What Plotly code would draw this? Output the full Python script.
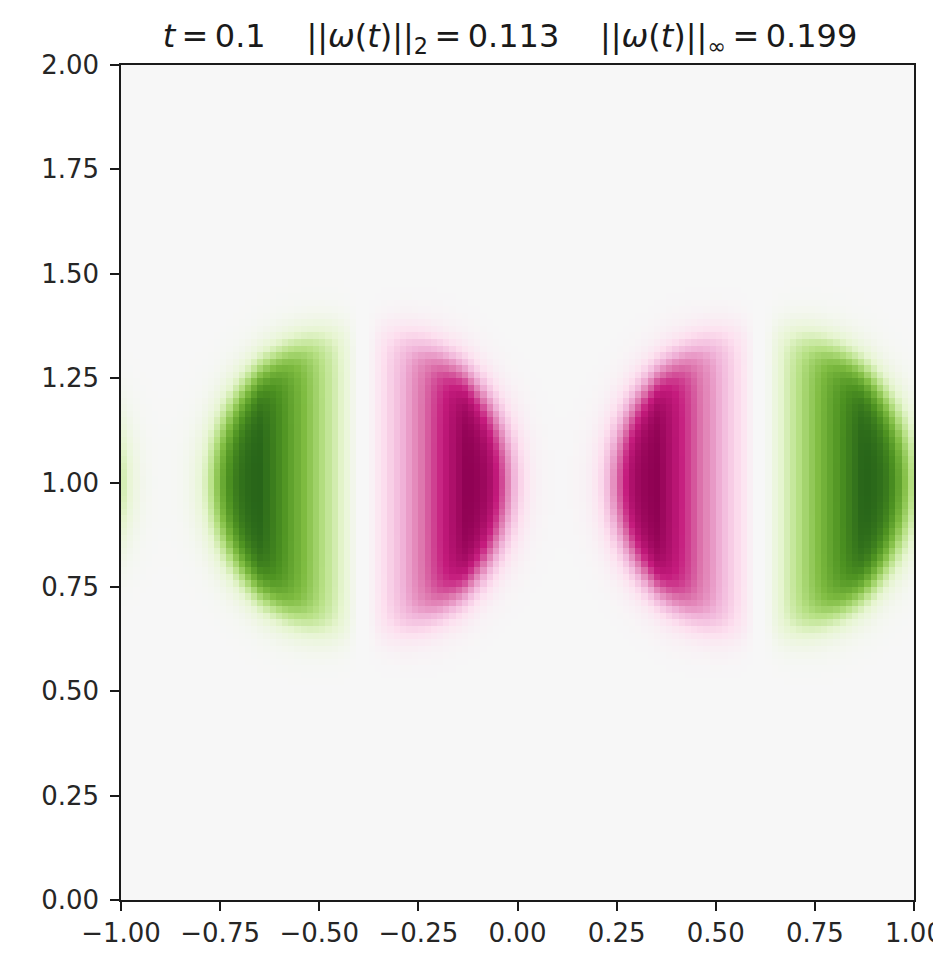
import numpy as np
import plotly.graph_objects as go

# Periodic domain in x, rectangular grid of cells
x_limits = [-1.0, 1.0]
y_limits = [0.0, 2.0]
n_cells_x = 128
n_cells_y = 128

# Two vortex dipoles, each split into an outer and inner lobe
pair_center_x = [-0.39, 0.612]
pair_center_y = [1.0, 1.0]
pair_radius = [0.45, 0.45]
pair_sign = [-1.0, 1.0]

# Axial ramp and radial edge of each lobe
ramp_start = [0.015, 0.015]
ramp_end = [0.26, 0.26]
ramp_power = [0.85, 0.85]
edge_radius = [0.825, 0.825]
edge_width = [0.11, 0.11]

# Snapshot diagnostics
t_value = 0.1
norm_l2 = 0.113
norm_inf = 0.199

tick_vals_x = [-1.0, -0.75, -0.5, -0.25, 0.0, 0.25, 0.5, 0.75, 1.0]
tick_vals_y = [0.0, 0.25, 0.5, 0.75, 1.0, 1.25, 1.5, 1.75, 2.0]


def fmt(v):
    s = f"{abs(v):.2f}"
    return ("\u2212" + s) if v < 0 else s


dx = (x_limits[1] - x_limits[0]) / n_cells_x
dy = (y_limits[1] - y_limits[0]) / n_cells_y
xc = x_limits[0] + dx * (np.arange(n_cells_x) + 0.5)
yc = y_limits[0] + dy * (np.arange(n_cells_y) + 0.5)
X, Y = np.meshgrid(xc, yc)
period = x_limits[1] - x_limits[0]

omega = np.zeros_like(X)
for cx, cy, rad, sg, r0, r1, pw, er, ew in zip(
    pair_center_x, pair_center_y, pair_radius, pair_sign,
    ramp_start, ramp_end, ramp_power, edge_radius, edge_width,
):
    u = ((X - cx - x_limits[0]) % period) + x_limits[0]
    v = Y - cy
    r = np.sqrt(u ** 2 + v ** 2) / rad
    envelope = 0.5 * (1.0 - np.tanh((r - er) / ew))
    ramp = np.clip((np.abs(u) - r0) / (r1 - r0), 0.0, 1.0) ** pw
    omega += sg * np.sign(u) * ramp * envelope

omega *= norm_inf / np.abs(omega).max()

fig = go.Figure(
    go.Heatmap(
        x=xc,
        y=yc,
        z=omega,
        colorscale="PiYG",
        zmin=-norm_inf,
        zmax=norm_inf,
        zsmooth=False,
        showscale=False,
        hoverinfo="skip",
    )
)

axis_common = dict(
    showline=True,
    mirror=True,
    linecolor="#1a1a1a",
    linewidth=1.5,
    ticks="outside",
    ticklen=9,
    tickwidth=1.5,
    tickcolor="#1a1a1a",
    showgrid=False,
    zeroline=False,
    automargin=False,
    ticklabeloverflow="allow",
    tickfont=dict(family="DejaVu Sans", size=26, color="#262626"),
)

fig.update_xaxes(
    range=x_limits,
    tickvals=tick_vals_x,
    ticktext=[fmt(v) for v in tick_vals_x],
    ticklabelstandoff=0,
    **axis_common,
)
fig.update_yaxes(
    range=y_limits,
    tickvals=tick_vals_y,
    ticktext=[fmt(v) for v in tick_vals_y],
    ticklabelstandoff=6,
    **axis_common,
)

sp = "\u00a0\u00a0\u00a0\u00a0"
title = (
    f"<i>t</i>\u2009=\u2009{t_value:g}{sp}"
    f"||<i>ω</i>(<i>t</i>)||<sub>2</sub>\u2009=\u2009{norm_l2:.3f}{sp}"
    f"||<i>ω</i>(<i>t</i>)||<sub>∞</sub>\u2009=\u2009{norm_inf:.3f}"
)

fig.update_layout(
    width=933,
    height=954,
    margin=dict(l=121, r=19, t=65, b=54),
    paper_bgcolor="white",
    plot_bgcolor="#f7f7f7",
    title=dict(
        text=title,
        x=0.4905,
        xref="paper",
        y=1 - 36 / 954,
        yref="container",
        yanchor="middle",
        xanchor="center",
        font=dict(family="DejaVu Sans", size=32, color="#1a1a1a"),
    ),
)

fig.write_html("out.html")
